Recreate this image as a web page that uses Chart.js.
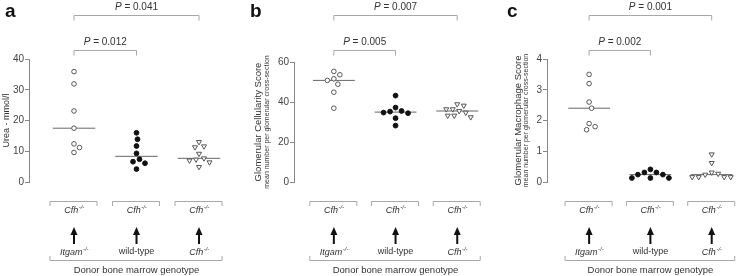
<!DOCTYPE html>
<html>
<head>
<meta charset="utf-8">
<script src="https://cdn.jsdelivr.net/npm/chart.js@4"></script>
<style>
  body { margin: 0; background: #fff; width: 740px; height: 276px; overflow: hidden; position: relative; }
  canvas { position: absolute; top: 0; }
</style>
</head>
<body>
<canvas id="chartA" width="245" height="276" style="left:0"></canvas>
<canvas id="chartB" width="245" height="276" style="left:245px"></canvas>
<canvas id="chartC" width="250" height="276" style="left:490px"></canvas>
<script>
// donor bone marrow groups (recipients are all Cfh-/-)
var donors = ['Itgam', 'wild-type', 'Cfh'];
var recipient = 'Cfh';

// a: urea, mmol/l
var ureaItgam = [35.9, 31.9, 23.1, 17.5, 12.4, 11.2, 9.6];
var ureaWildtype = [16.0, 13.9, 11.7, 9.3, 7.4, 6.6, 6.1, 4.2];
var ureaCfh = [13.0, 11.6, 11.3, 9.2, 7.7, 7.3, 7.0, 6.4, 4.9];
var ureaTicks = [0, 10, 20, 30, 40];
var ureaP = ['0.012', '0.041'];

// b: glomerular cellularity score
var cellItgam = [55.3, 53.6, 51.6, 50.8, 48.9, 44.9, 36.9];
var cellWildtype = [43.2, 37.2, 35.5, 35.2, 34.7, 34.4, 31.9, 28.2];
var cellCfh = [38.9, 38.2, 36.4, 36.4, 35.5, 34.7, 33.2, 33.2, 32.4];
var cellTicks = [0, 20, 40, 60];
var cellP = ['0.005', '0.007'];

// c: glomerular macrophage score
var macItgam = [3.5, 3.2, 2.6, 2.4, 1.9, 1.8, 1.7];
var macWildtype = [0.41, 0.31, 0.31, 0.24, 0.24, 0.13, 0.13, 0.13];
var macCfh = [0.9, 0.62, 0.31, 0.27, 0.24, 0.16, 0.16, 0.16, 0.16];
var macTicks = [0, 1, 2, 3, 4];
var macP = ['0.002', '0.001'];

var FONT = '"Liberation Sans", Arial, sans-serif';
var SPREAD = 6.5; // min distance between points, px

function median(arr) {
    var s = arr.slice().sort(function (a, b) { return a - b; });
    var m = Math.floor(s.length / 2);
    return s.length % 2 ? s[m] : (s[m - 1] + s[m]) / 2;
}

// italic gene name with -/- superscript
function gene(ctx, name, x, y, italic) {
    ctx.font = (italic ? 'italic ' : '') + '9px ' + FONT;
    var w1 = ctx.measureText(name).width;
    if (!italic) {
        ctx.textAlign = 'center';
        ctx.fillText(name, x, y);
        return;
    }
    ctx.font = 'italic 6px ' + FONT;
    var w2 = ctx.measureText('-/-').width;
    var x0 = x - (w1 + w2) / 2;
    ctx.textAlign = 'left';
    ctx.font = 'italic 9px ' + FONT;
    ctx.fillText(name, x0, y);
    ctx.font = 'italic 6px ' + FONT;
    ctx.fillText('-/-', x0 + w1 + 0.5, y - 3);
}

function bracket(ctx, x1, x2, y, p) {
    ctx.strokeStyle = '#a8a8a8';
    ctx.lineWidth = 1;
    ctx.beginPath();
    ctx.moveTo(x1, y + 5);
    ctx.lineTo(x1, y);
    ctx.lineTo(x2, y);
    ctx.lineTo(x2, y + 5);
    ctx.stroke();
    ctx.fillStyle = '#333';
    ctx.textBaseline = 'middle';
    ctx.font = 'italic 10px ' + FONT;
    var wp = ctx.measureText('P').width;
    ctx.font = '10px ' + FONT;
    var rest = ' = ' + p;
    var wr = ctx.measureText(rest).width;
    var x0 = (x1 + x2) / 2 - (wp + wr) / 2;
    ctx.textAlign = 'left';
    ctx.font = 'italic 10px ' + FONT;
    ctx.fillText('P', x0, y - 8);
    ctx.font = '10px ' + FONT;
    ctx.fillText(rest, x0 + wp, y - 8);
}

function decor(cfg) {
    return {
        id: 'decor',
        afterDraw: function (chart) {
            var ctx = chart.ctx;
            var xs = chart.scales.x;
            var area = chart.chartArea;
            var c = [1, 2, 3].map(function (g) { return xs.getPixelForValue(g); });
            ctx.save();

            // panel letter
            ctx.fillStyle = '#111';
            ctx.font = 'bold 19px ' + FONT;
            ctx.textAlign = 'left';
            ctx.textBaseline = 'alphabetic';
            ctx.fillText(cfg.letter, cfg.letterX, 17);

            // y titles
            var midY = (area.top + area.bottom) / 2;
            ctx.fillStyle = '#333';
            ctx.textAlign = 'center';
            ctx.textBaseline = 'middle';
            cfg.titles.forEach(function (t) {
                ctx.save();
                ctx.translate(t.x, midY);
                ctx.rotate(-Math.PI / 2);
                ctx.font = t.size + 'px ' + FONT;
                ctx.fillText(t.text, 0, 0);
                ctx.restore();
            });

            // significance brackets
            bracket(ctx, c[0], c[1], 50.5, cfg.p[0]);
            bracket(ctx, c[0], c[2], 15.5, cfg.p[1]);

            // recipient / donor scheme
            ctx.strokeStyle = '#a8a8a8';
            ctx.lineWidth = 1;
            c.forEach(function (x, i) {
                ctx.beginPath();
                ctx.moveTo(x - 24, 206);
                ctx.lineTo(x - 24, 201.5);
                ctx.lineTo(x + 23, 201.5);
                ctx.lineTo(x + 23, 206);
                ctx.stroke();
                ctx.fillStyle = '#333';
                ctx.textBaseline = 'middle';
                gene(ctx, recipient, x, 210, true);
                // arrow
                ctx.fillStyle = '#111';
                ctx.fillRect(x - 1, 233, 2, 11);
                ctx.beginPath();
                ctx.moveTo(x, 227);
                ctx.lineTo(x - 3.5, 235);
                ctx.lineTo(x + 3.5, 235);
                ctx.closePath();
                ctx.fill();
                ctx.fillStyle = '#333';
                gene(ctx, donors[i], x, 252, donors[i] !== 'wild-type');
            });
            ctx.strokeStyle = '#a8a8a8';
            ctx.beginPath();
            ctx.moveTo(c[0] - 24, 256);
            ctx.lineTo(c[0] - 24, 260.5);
            ctx.lineTo(c[2] + 23, 260.5);
            ctx.lineTo(c[2] + 23, 256);
            ctx.stroke();
            ctx.fillStyle = '#333';
            ctx.font = '9.5px ' + FONT;
            ctx.textAlign = 'center';
            ctx.fillText('Donor bone marrow genotype', c[1], 270);
            ctx.restore();
        }
    };
}

// spread points of a group sideways so they don't overlap
function swarm(chart) {
    var xs = chart.scales.x, ys = chart.scales.y;
    var pxPerX = xs.getPixelForValue(1) - xs.getPixelForValue(0);
    chart.data.datasets.forEach(function (ds) {
        if (!ds.group) return;
        var placed = [];
        ds.data.forEach(function (p) {
            var py = ys.getPixelForValue(p.y);
            var off = 0;
            for (var k = 0; k < 100; k++) {
                var cand = k === 0 ? 0 : (k % 2 ? 1 : -1) * Math.ceil(k / 2) * 0.5;
                var ok = placed.every(function (q) { return Math.hypot(q.x - cand, q.y - py) >= SPREAD; });
                if (ok) { off = cand; break; }
            }
            placed.push({ x: off, y: py });
            p.x = ds.group + off / pxPerX;
        });
    });
    chart.update('none');
}

function makePanel(id, groups, ticks, yMax, cfg) {
    var styles = [
        { pointStyle: 'circle', backgroundColor: '#fff', borderColor: '#555', pointRadius: 2.3, rotation: 0 },
        { pointStyle: 'circle', backgroundColor: '#111', borderColor: '#111', pointRadius: 2.4, rotation: 0 },
        { pointStyle: 'triangle', backgroundColor: '#fff', borderColor: '#555', pointRadius: 2.9, rotation: 180 }
    ];
    var datasets = [];
    groups.forEach(function (vals, i) {
        var g = i + 1;
        var s = styles[i];
        datasets.push({
            type: 'scatter',
            group: g,
            order: 0,
            data: vals.map(function (v) { return { x: g, y: v }; }),
            pointStyle: s.pointStyle,
            rotation: s.rotation,
            pointRadius: s.pointRadius,
            pointBackgroundColor: s.backgroundColor,
            pointBorderColor: s.borderColor,
            pointBorderWidth: 1,
            clip: false
        });
        var m = median(vals);
        datasets.push({
            type: 'line',
            order: 1,
            data: [{ x: g - 0.34, y: m }, { x: g + 0.34, y: m }],
            borderColor: '#666',
            borderWidth: 1,
            pointRadius: 0,
            clip: false
        });
    });

    var chart = new Chart(document.getElementById(id), {
        type: 'scatter',
        data: { datasets: datasets },
        options: {
            responsive: false,
            animation: false,
            events: [],
            layout: { padding: { left: 0, right: cfg.padRight, top: cfg.padTop, bottom: 94 } },
            plugins: { legend: { display: false }, tooltip: { enabled: false } },
            scales: {
                x: { type: 'linear', display: false, min: cfg.xMin, max: cfg.xMax },
                y: {
                    min: 0,
                    max: yMax,
                    afterBuildTicks: function (s) { s.ticks = ticks.map(function (v) { return { value: v }; }); },
                    afterFit: function (s) { s.width = cfg.axisW; },
                    grid: { drawOnChartArea: false, drawTicks: true, tickLength: 4, color: '#888' },
                    border: { display: true, color: '#888' },
                    ticks: { color: '#444', padding: 1, font: { family: FONT, size: 10 } }
                }
            }
        },
        plugins: [decor(cfg)]
    });
    swarm(chart);
    return chart;
}

makePanel('chartA', [ureaItgam, ureaWildtype, ureaCfh], ureaTicks, 40, {
    letter: 'a', letterX: 5, axisW: 29, xMin: 0.28, xMax: 3.5, padRight: 14.75, padTop: 59,
    titles: [{ text: 'Urea - mmol/l', x: 6.5, size: 9 }],
    p: ureaP
});

makePanel('chartB', [cellItgam, cellWildtype, cellCfh], cellTicks, 60, {
    letter: 'b', letterX: 5, axisW: 49, xMin: 0.354, xMax: 3.45, padRight: 3, padTop: 62,
    titles: [
        { text: 'Glomerular Cellularity Score', x: 13.5, size: 9.5 },
        { text: 'mean number per glomerular cross-section', x: 22, size: 7 }
    ],
    p: cellP
});

makePanel('chartC', [macItgam, macWildtype, macCfh], macTicks, 4, {
    letter: 'c', letterX: 17, axisW: 57, xMin: 0.313, xMax: 3.38, padRight: 0, padTop: 59,
    titles: [
        { text: 'Glomerular Macrophage Score', x: 28.5, size: 9.5 },
        { text: 'mean number per glomerular cross-section', x: 36.5, size: 7 }
    ],
    p: macP
});
</script>
</body>
</html>
